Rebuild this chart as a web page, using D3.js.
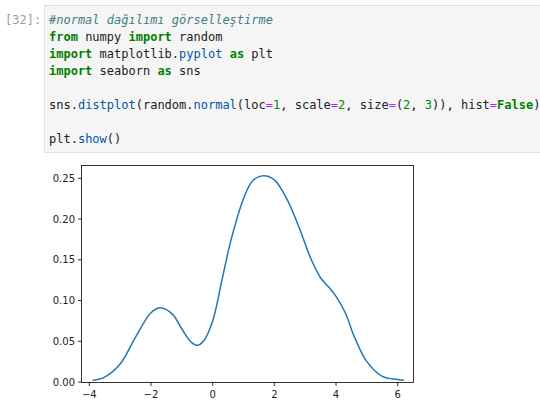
<!DOCTYPE html>
<html><head><meta charset="utf-8">
<script src="https://cdn.jsdelivr.net/npm/d3@7"></script>
<style>body{margin:0;background:#fff;}svg{display:block}</style>
</head><body><svg id="c" width="540" height="412"></svg>
<script>
const xs = [-3.9,-3.5,-3,-2.5,-2.0,-1.7,-1.3,-1.0,-0.7,-0.5,-0.3,0,0.3,0.6,1.0,1.3,1.65,2.0,2.4,2.8,3.2,3.5,3.8,4.0,4.3,4.6,5.0,5.5,6.0,6.2];
const ys = [0.002,0.006,0.022,0.055,0.085,0.091,0.083,0.065,0.049,0.045,0.050,0.075,0.125,0.175,0.225,0.247,0.253,0.248,0.225,0.190,0.150,0.128,0.115,0.105,0.085,0.055,0.025,0.007,0.003,0.002];
const xTicks = [-4,-2,0,2,4,6];
const yTicks = [0,0.05,0.10,0.15,0.20,0.25];
const codeLines = [
 [["#normal dağılımı görselleştirme","c"]],
 [["from","k"],[" numpy ",""],["import","k"],[" random",""]],
 [["import","k"],[" matplotlib.",""],["pyplot","f"],[" ",""],["as","k"],[" plt",""]],
 [["import","k"],[" seaborn ",""],["as","k"],[" sns",""]],
 [],
 [["sns.",""],["distplot","f"],["(random.",""],["normal","f"],["(loc",""],["=","o"],["1","n"],[", scale",""],["=","o"],["2","n"],[", size",""],["=","o"],["(",""],["2","n"],[", ",""],["3","n"],[")), hist",""],["=","o"],["False","k"],[")",""]],
 [],
 [["plt.",""],["show","f"],["()",""]]
];
const svg = d3.select("#c");
svg.append("rect").attr("x",44.5).attr("y",5.5).attr("width",510).attr("height",147).attr("fill","#f5f5f5").attr("stroke","#e0e0e0");
svg.append("text").attr("x",5).attr("y",24).attr("font-family","DejaVu Sans Mono").attr("font-size","12px").attr("fill","#9e9e9e").text("[32]:");
const sty = {"":{fill:"#212121"},k:{fill:"#008000",weight:"bold"},f:{fill:"#0055aa"},n:{fill:"#008800"},o:{fill:"#aa22ff"},c:{fill:"#408080",style:"italic"}};
codeLines.forEach((ln,i)=>{
  const t = svg.append("text").attr("x",49).attr("y",24+i*17).attr("font-family","DejaVu Sans Mono").attr("font-size","12px").attr("xml:space","preserve");
  ln.forEach(([s,k])=>{const st=sty[k];t.append("tspan").attr("fill",st.fill).attr("font-weight",st.weight||"normal").attr("font-style",st.style||"normal").text(s);});
});
const L=81,R=413,T=165,B=382;
const x = d3.scaleLinear().domain([-4,6]).range([89.3,397.7]);
const y = d3.scaleLinear().domain([0,0.25]).range([B,178.3]);
const g = svg.append("g");
g.append("rect").attr("x",L+0.5).attr("y",T+0.5).attr("width",R-L).attr("height",B-T).attr("fill","none").attr("stroke","#000").attr("stroke-width",0.8);
xTicks.forEach(v=>{g.append("line").attr("x1",x(v)).attr("x2",x(v)).attr("y1",B+0.5).attr("y2",B+4).attr("stroke","#000").attr("stroke-width",0.8);
  g.append("text").attr("x",x(v)).attr("y",B+16).attr("text-anchor","middle").attr("font-family","DejaVu Sans").attr("font-size","10px").attr("fill","#222").text(v<0?"\u2212"+(-v):v);});
yTicks.forEach(v=>{g.append("line").attr("x1",L-3).attr("x2",L+0.5).attr("y1",y(v)).attr("y2",y(v)).attr("stroke","#000").attr("stroke-width",0.8);
  g.append("text").attr("x",L-6).attr("y",y(v)+3.5).attr("text-anchor","end").attr("font-family","DejaVu Sans").attr("font-size","10px").attr("fill","#222").text(v.toFixed(2));});
const pts = xs.map((v,i)=>[v,ys[i]]);
g.append("path").datum(pts).attr("fill","none").attr("stroke","#1f77b4").attr("stroke-width",1.5)
 .attr("d",d3.line().x(d=>x(d[0])).y(d=>y(d[1])).curve(d3.curveCatmullRom.alpha(0.5)));
</script></body></html>
